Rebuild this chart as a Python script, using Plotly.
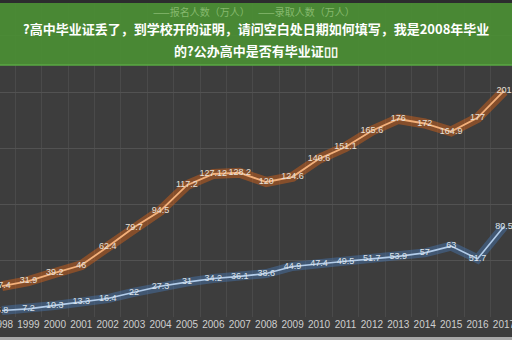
import plotly.graph_objects as go

years = list(range(1998, 2018))
applicants = [27.4, 31.9, 39.2, 46, 62.4, 79.7, 94.5, 117.2, 127.12, 128.2,
              120, 124.6, 140.6, 151.1, 165.6, 176, 172, 164.9, 177, 201]
admitted = [5.8, 7.2, 10.3, 13.3, 16.4, 22, 27.3, 31, 34.2, 36.1,
            38.6, 44.9, 47.4, 49.5, 51.7, 53.9, 57, 63, 51.7, 80.5]
applicant_labels = ["27.4", "31.9", "39.2", "46", "62.4", "79.7", "94.5", "117.2", "127.12", "128.2",
                    "120", "124.6", "140.6", "151.1", "165.6", "176", "172", "164.9", "177", "201"]
admitted_labels = ["5.8", "7.2", "10.3", "13.3", "16.4", "22", "27.3", "31", "34.2", "36.1",
                   "38.6", "44.9", "47.4", "49.5", "51.7", "53.9", "57", "63", "51.7", "80.5"]
series_names = ["报名人数（万人）", "录取人数（万人）"]
title_lines = ["?高中毕业证丢了，到学校开的证明，请问空白处日期如何填写，我是2008年毕业",
               "的?公办高中是否有毕业证\u25af\u25af"]

W, H = 512, 340
plot_h = 317
BG = "#3d3d3d"
font_family = "Noto Sans CJK SC, Noto Sans, sans-serif"
label_font = "Liberation Sans, Arial, sans-serif"

fig = go.Figure()

# glow layers
fig.add_trace(go.Scatter(x=years, y=applicants, mode="lines", line=dict(color="rgba(205,95,25,0.5)", width=10),
                         hoverinfo="skip", showlegend=False))
fig.add_trace(go.Scatter(x=years, y=admitted, mode="lines", line=dict(color="rgba(70,120,180,0.45)", width=9),
                         hoverinfo="skip", showlegend=False))
# core lines with labels
fig.add_trace(go.Scatter(x=years, y=applicants, mode="lines+text", name=series_names[0],
                         line=dict(color="#f3b07a", width=1.8),
                         text=applicant_labels, textposition="middle center",
                         textfont=dict(color="#e6e0da", size=9, family=label_font),
                         showlegend=False))
fig.add_trace(go.Scatter(x=years, y=admitted, mode="lines+text", name=series_names[1],
                         line=dict(color="#b3cdea", width=1.6),
                         text=admitted_labels, textposition="middle center",
                         textfont=dict(color="#dde4ec", size=9, family=label_font),
                         showlegend=False))

px_per_year = 26.42
x0 = 1998 - 2 / px_per_year
x1 = x0 + W / px_per_year
y_top = 200 + 92 / 1.125

fig.update_layout(
    width=W, height=H,
    margin=dict(l=0, r=0, t=0, b=H - plot_h, pad=0),
    paper_bgcolor=BG, plot_bgcolor=BG,
    showlegend=False,
    font=dict(family=font_family),
    xaxis=dict(range=[x0, x1], tickvals=years, ticktext=[str(y) for y in years],
               tickangle=0, ticklabeloverflow="allow",
               showgrid=False, zeroline=False, showline=False, ticks="",
               tickfont=dict(color="#cfcfcf", size=10, family=label_font),
               automargin=False, fixedrange=True,
               minor=dict(tick0=1997.5, dtick=1, showgrid=True, gridcolor="#4a4a4a", gridwidth=1)),
    yaxis=dict(range=[0, y_top], dtick=50, showgrid=True, gridcolor="#525252", gridwidth=1,
               zeroline=False, showline=False, showticklabels=False, ticks="",
               automargin=False, fixedrange=True),
)

def py(px):
    return 1 - px / plot_h

annotations = []
# faint legend seen through banner
annotations.append(dict(xref="paper", yref="paper", x=201 / W, y=py(11), yanchor="middle",
                        text="——" + series_names[0],
                        showarrow=False, font=dict(color="#86b96e", size=10)))
annotations.append(dict(xref="paper", yref="paper", x=306 / W, y=py(11), yanchor="middle",
                        text="——" + series_names[1],
                        showarrow=False, font=dict(color="#86b96e", size=10)))
annotations.append(dict(xref="paper", yref="paper", x=0.5, y=py(28), xanchor="center", yanchor="middle",
                        text="<b>" + title_lines[0] + "</b>", showarrow=False,
                        font=dict(color="#ffffff", size=13, family=font_family)))
annotations.append(dict(xref="paper", yref="paper", x=0.5, y=py(50), xanchor="center", yanchor="middle",
                        text="<b>" + title_lines[1] + "</b>", showarrow=False,
                        font=dict(color="#ffffff", size=13, family=font_family)))
fig.update_layout(annotations=annotations)

shapes = [
    dict(type="rect", xref="paper", yref="paper", x0=0, x1=1, y0=py(65), y1=py(3),
         fillcolor="rgba(74,142,52,0.93)", line=dict(width=0), layer="above"),
    dict(type="rect", xref="paper", yref="paper", x0=0, x1=1, y0=py(3), y1=py(0),
         fillcolor="#2c2c2e", line=dict(width=0), layer="above"),
    dict(type="line", xref="paper", yref="paper", x0=0, x1=1, y0=py(65), y1=py(65),
         line=dict(color="#5aa843", width=1.5), layer="above"),
    dict(type="rect", xref="paper", yref="paper", x0=0, x1=1, y0=py(340), y1=py(337),
         fillcolor="#a8a8a8", line=dict(width=0), layer="above"),
]
fig.update_layout(shapes=shapes)

fig.write_html("out.html")
